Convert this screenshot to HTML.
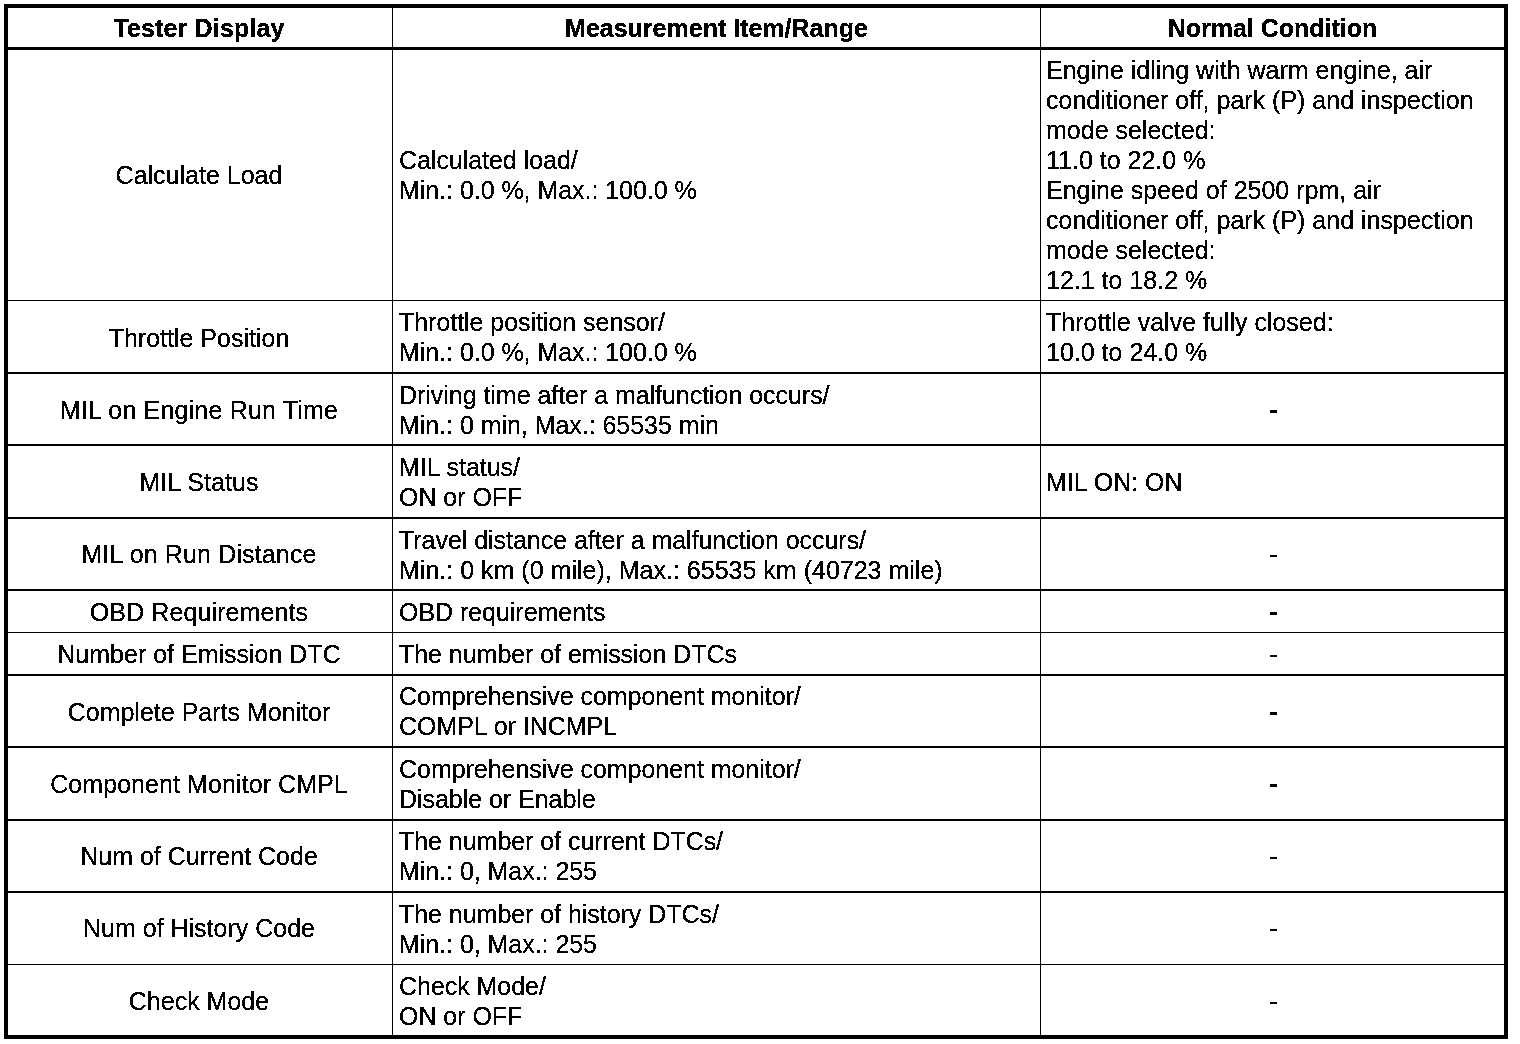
<!DOCTYPE html>
<html lang="en">
<head>
<meta charset="utf-8">
<title>Data List</title>
<style>
html,body{margin:0;padding:0;background:#fff;}
body{width:1520px;height:1044px;position:relative;overflow:hidden;
  font-family:"Liberation Sans",Arial,Helvetica,sans-serif;font-size:25px;line-height:30px;color:#000;}
table{filter:url(#mono);position:absolute;left:4px;top:4px;width:1504px;border-collapse:separate;border-spacing:0;
  border:4px solid #000;table-layout:fixed;box-sizing:border-box;}
td,th{box-sizing:border-box;padding:0;margin:0;vertical-align:top;border:0 solid #000;
  border-bottom-width:2px;font-weight:normal;text-align:left;white-space:nowrap;overflow:hidden;}
th{font-weight:bold;text-align:center;border-bottom-width:3px;height:42px;padding-top:5px;}
.c1{width:385px;border-right-width:1px;text-align:center;padding-right:2px;}
.c2{width:648px;border-right-width:1px;padding-left:6px;letter-spacing:-0.04px;}
.c3{padding-left:5px;}
th.c2,th.c3{padding-left:0;letter-spacing:0;}
th.c1{letter-spacing:0.15px;padding-right:2px;}
td.d{text-align:center;padding-left:2px;}
td.k{text-shadow:0 -1px 0 #000;}
tr.b1 td{border-bottom-width:1px;}
tr.b0 td{border-bottom-width:0;}
</style>
</head>
<body>
<svg width="0" height="0" style="position:absolute" aria-hidden="true"><defs>
<filter id="mono" x="0" y="0" width="100%" height="100%" color-interpolation-filters="sRGB">
<feComponentTransfer><feFuncA type="discrete" tableValues="0 0 0 1 1 1 1 1 1 1"/></feComponentTransfer>
</filter></defs></svg>
<table>
<thead>
<tr><th class="c1">Tester Display</th><th class="c2">Measurement Item/Range</th><th class="c3">Normal Condition</th></tr>
</thead>
<tbody>
<tr class="b1" style="height:251px"><td class="c1" style="padding-top:110px">Calculate Load</td><td class="c2" style="padding-top:95px">Calculated load/<br>Min.: 0.0 %, Max.: 100.0 %</td><td class="c3" style="padding-top:5px">Engine idling with warm engine, air<br>conditioner off, park (P) and inspection<br>mode selected:<br>11.0 to 22.0 %<br>Engine speed of 2500 rpm, air<br>conditioner off, park (P) and inspection<br>mode selected:<br>12.1 to 18.2 %</td></tr>
<tr style="height:73px"><td class="c1" style="padding-top:22px">Throttle Position</td><td class="c2" style="padding-top:6px">Throttle position sensor/<br>Min.: 0.0 %, Max.: 100.0 %</td><td class="c3" style="padding-top:6px">Throttle valve fully closed:<br>10.0 to 24.0 %</td></tr>
<tr style="height:72px"><td class="c1" style="padding-top:21px;letter-spacing:0.18px">MIL on Engine Run Time</td><td class="c2" style="padding-top:6px">Driving time after a malfunction occurs/<br>Min.: 0 min, Max.: 65535 min</td><td class="c3 d k" style="padding-top:21px">-</td></tr>
<tr style="height:73px"><td class="c1" style="padding-top:21px;letter-spacing:0.08px">MIL Status</td><td class="c2" style="padding-top:6px">MIL status/<br>ON or OFF</td><td class="c3" style="padding-top:21px">MIL ON: ON</td></tr>
<tr style="height:72px"><td class="c1" style="padding-top:20px;letter-spacing:0.14px">MIL on Run Distance</td><td class="c2" style="padding-top:6px">Travel distance after a malfunction occurs/<br><span style="letter-spacing:0.01px">Min.: 0 km (0 mile), Max.: 65535 km (40723 mile)</span></td><td class="c3 d" style="padding-top:20px">-</td></tr>
<tr class="b1" style="height:42px"><td class="c1" style="padding-top:6px;letter-spacing:0.1px">OBD Requirements</td><td class="c2" style="padding-top:6px">OBD requirements</td><td class="c3 d k" style="padding-top:6px">-</td></tr>
<tr style="height:43px"><td class="c1" style="padding-top:6px">Number of Emission DTC</td><td class="c2" style="padding-top:6px">The number of emission DTCs</td><td class="c3 d" style="padding-top:6px">-</td></tr>
<tr style="height:72px"><td class="c1" style="padding-top:21px">Complete Parts Monitor</td><td class="c2" style="padding-top:5px">Comprehensive component monitor/<br>COMPL or INCMPL</td><td class="c3 d k" style="padding-top:21px">-</td></tr>
<tr style="height:73px"><td class="c1" style="padding-top:21px;letter-spacing:0.08px">Component Monitor CMPL</td><td class="c2" style="padding-top:6px">Comprehensive component monitor/<br>Disable or Enable</td><td class="c3 d k" style="padding-top:21px">-</td></tr>
<tr style="height:72px"><td class="c1" style="padding-top:20px">Num of Current Code</td><td class="c2" style="padding-top:5px">The number of current DTCs/<br>Min.: 0, Max.: 255</td><td class="c3 d" style="padding-top:20px">-</td></tr>
<tr class="b1" style="height:72px"><td class="c1" style="padding-top:20px">Num of History Code</td><td class="c2" style="padding-top:6px">The number of history DTCs/<br>Min.: 0, Max.: 255</td><td class="c3 d" style="padding-top:20px">-</td></tr>
<tr class="b0" style="height:70px"><td class="c1" style="padding-top:21px">Check Mode</td><td class="c2" style="padding-top:6px">Check Mode/<br>ON or OFF</td><td class="c3 d" style="padding-top:21px">-</td></tr>
</tbody>
</table>
</body>
</html>
